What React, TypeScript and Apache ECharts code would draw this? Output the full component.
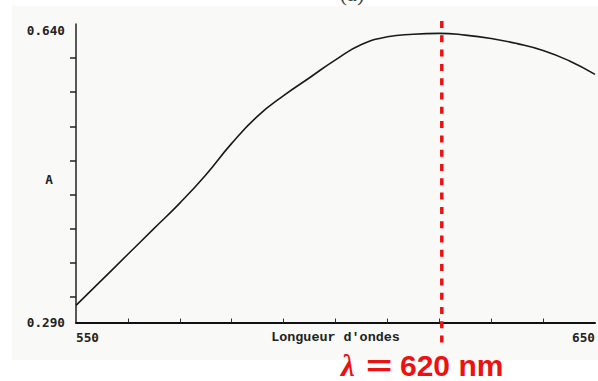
import React, { useEffect, useRef } from "react";
import * as echarts from "echarts";

const wavelengths = [550, 555, 560, 565, 570, 575, 580, 585, 590, 595, 600, 605, 610, 615, 620, 625, 630, 635, 640, 645, 650];
const absorbance = [0.310, 0.340, 0.370, 0.400, 0.430, 0.463, 0.500, 0.532, 0.556, 0.577, 0.598, 0.616, 0.625, 0.628, 0.629, 0.627, 0.623, 0.617, 0.609, 0.597, 0.581];
const xTickValues = [560, 570, 580, 590, 600, 610, 620, 630, 640];
const xLabelValues = [550, 650];
const yTickValues = [0.32, 0.36, 0.40, 0.44, 0.48, 0.52, 0.56, 0.60];
const yLabelValues = [0.29, 0.64];
const lambdaMax = 620;

export default function App() {
  const ref = useRef<HTMLDivElement>(null);
  useEffect(() => {
    if (!ref.current) return;
    const chart = echarts.init(ref.current, null, { renderer: "svg" });
    const monoNum = "'DejaVu Sans Mono', 'Liberation Mono', monospace";
    chart.setOption({
      animation: false,
      backgroundColor: "#ffffff",
      grid: { left: 76, right: 0, top: 24, bottom: 58.5 },
      xAxis: {
        type: "value",
        min: 550,
        max: 650,
        name: "Longueur d'ondes",
        nameLocation: "middle",
        nameGap: 8,
        nameMoveOverlap: false,
        nameTextStyle: {
          fontFamily: "'Liberation Mono', monospace",
          fontSize: 13.4,
          fontWeight: "bold",
          color: "#222",
          verticalAlign: "top",
        },
        axisLine: { show: true, onZero: false, lineStyle: { color: "#111", width: 2 } },
        axisTick: { show: true, inside: true, length: 4, customValues: xTickValues, lineStyle: { color: "#333", width: 1 } },
        axisLabel: {
          show: true,
          customValues: xLabelValues,
          alignMinLabel: "left",
          alignMaxLabel: "right",
          margin: 8,
          fontFamily: monoNum,
          fontSize: 12.7,
          fontWeight: "bold",
          color: "#222",
        },
        splitLine: { show: false },
      },
      yAxis: {
        type: "value",
        min: 0.29,
        max: 0.64,
        axisLine: { show: true, onZero: false, lineStyle: { color: "#222", width: 1.5 } },
        axisTick: { show: true, inside: false, length: 6, customValues: yTickValues, lineStyle: { color: "#222", width: 1.5 } },
        axisLabel: {
          show: true,
          customValues: yLabelValues,
          margin: 11,
          fontFamily: monoNum,
          fontSize: 12.7,
          fontWeight: "bold",
          color: "#222",
          formatter: (v: number) => (v > 0.5 ? "{top|" + v.toFixed(3) + "}" : v.toFixed(3)),
          rich: {
            top: { fontFamily: monoNum, fontSize: 12.7, fontWeight: "bold", color: "#222", padding: [12, 0, 0, 0] },
          },
        },
        splitLine: { show: false },
      },
      series: [
        {
          type: "line",
          data: wavelengths.map((w, i) => [w, absorbance[i]]),
          smooth: 0.5,
          symbol: "none",
          lineStyle: { color: "#1a1a1a", width: 1.6 },
          z: 3,
        },
      ],
    });

    const top = chart.convertToPixel({ xAxisIndex: 0, yAxisIndex: 0 }, [lambdaMax, 0.64]) as number[];
    const lx = top[0] + 2.5;

    chart.setOption({
      graphic: [
        { type: "rect", silent: true, z: -10, shape: { x: 12, y: 6, width: 586, height: 354 }, style: { fill: "#f9f9f8" } },
        {
          type: "text", silent: true, x: 352, y: 4, style: { text: "(a)", font: "22px 'Liberation Serif', serif", fill: "#444", align: "center", verticalAlign: "bottom" },
        },
        {
          type: "text", silent: true, x: 49, y: 179,
          style: { text: "A", font: "bold 12.7px 'DejaVu Sans Mono', monospace", fill: "#222", align: "center", verticalAlign: "middle" },
        },
        {
          type: "line", silent: true, z: 10,
          shape: { x1: lx, y1: 21, x2: lx, y2: 350 },
          style: { stroke: "#ee1111", lineWidth: 3.5, lineDash: [7, 7.3] },
        },
        {
          type: "text", silent: true, z: 10, x: 341, y: 365,
          style: { text: "λ", font: "italic bold 31px 'Liberation Serif', serif", fill: "#ee1111", align: "left", verticalAlign: "middle" },
        },
        {
          type: "text", silent: true, z: 10, x: 366, y: 365, scaleX: 1.5,
          style: { text: "=", font: "bold 30px 'Liberation Sans', Arial, sans-serif", fill: "#ee1111", align: "left", verticalAlign: "middle" },
        },
        {
          type: "text", silent: true, z: 10, x: 400, y: 365,
          style: { text: "620 nm", font: "bold 30px 'Liberation Sans', Arial, sans-serif", fill: "#ee1111", align: "left", verticalAlign: "middle" },
        },
      ],
    });

    return () => chart.dispose();
  }, []);
  return <div ref={ref} style={{ position: "fixed", left: 0, top: 0, width: 598, height: 381 }} />;
}
